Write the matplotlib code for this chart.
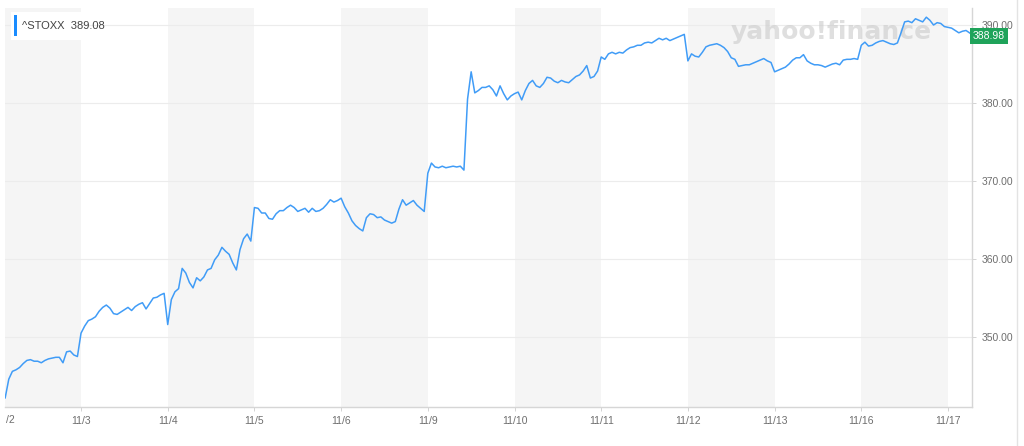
import matplotlib
matplotlib.use('Agg')
import matplotlib.pyplot as plt
from matplotlib.patches import Rectangle
from matplotlib.lines import Line2D
import matplotlib.transforms as mtransforms
import numpy as np

plt.rcParams['font.family'] = ['Liberation Sans', 'DejaVu Sans']

# trading sessions, values (one value every 1/24 of a session)
dates = ['11/2', '11/3', '11/4', '11/5', '11/6', '11/9',
         '11/10', '11/11', '11/12', '11/13', '11/16', '11/17']
first_slot = [3, 0, 0, 0, 0, 0, 0, 0, 0, 0, 0, 0]  # 11/2 is only partly visible

nov02 = [342.2, 344.6, 345.6, 345.8, 346.1, 346.6, 347.0, 347.1, 346.9, 346.9, 346.7,
         347.0, 347.2, 347.3, 347.4, 347.4, 346.7, 348.1, 348.2, 347.7, 347.5]
nov03 = [350.5, 351.4, 352.1, 352.3, 352.6, 353.3, 353.8, 354.1, 353.7, 353.0, 352.9, 353.2,
         353.5, 353.8, 353.4, 353.9, 354.2, 354.4, 353.6, 354.3, 355.0, 355.1, 355.4, 355.6]
nov04 = [351.6, 354.8, 355.8, 356.2, 358.8, 358.2, 357.0, 356.3, 357.6, 357.2, 357.7, 358.6,
         358.8, 359.9, 360.5, 361.5, 361.0, 360.6, 359.5, 358.6, 361.2, 362.6, 363.2, 362.3]
nov05 = [366.6, 366.5, 365.9, 365.9, 365.2, 365.1, 365.8, 366.2, 366.2, 366.6, 366.9, 366.6,
         366.1, 366.3, 366.5, 366.0, 366.5, 366.1, 366.2, 366.5, 367.0, 367.6, 367.3, 367.5]
nov06 = [367.8, 366.7, 365.9, 364.9, 364.3, 363.9, 363.6, 365.3, 365.8, 365.7, 365.3, 365.4,
         365.0, 364.8, 364.6, 364.8, 366.4, 367.6, 366.9, 367.2, 367.5, 366.9, 366.5, 366.1]
nov09 = [371.0, 372.3, 371.8, 371.7, 371.9, 371.7, 371.8, 371.9, 371.8, 371.9, 371.4, 380.5,
         384.0, 381.3, 381.6, 382.0, 382.0, 382.2, 381.7, 380.9, 382.2, 381.2, 380.4, 380.9]
nov10 = [381.2, 381.4, 380.4, 381.6, 382.5, 382.9, 382.2, 382.0, 382.5, 383.3, 383.2, 382.8,
         382.6, 382.9, 382.7, 382.6, 383.0, 383.4, 383.6, 384.1, 384.8, 383.2, 383.4, 384.1]
nov11 = [385.9, 385.6, 386.3, 386.5, 386.3, 386.5, 386.4, 386.8, 387.1, 387.2, 387.4, 387.4,
         387.7, 387.8, 387.7, 388.0, 388.3, 388.1, 388.3, 388.0, 388.2, 388.4, 388.6, 388.8]
nov12 = [385.4, 386.3, 386.0, 385.9, 386.5, 387.2, 387.4, 387.5, 387.6, 387.4, 387.1, 386.6,
         385.8, 385.6, 384.7, 384.8, 384.9, 384.9, 385.1, 385.3, 385.5, 385.7, 385.4, 385.2]
nov13 = [384.0, 384.2, 384.4, 384.6, 385.0, 385.5, 385.8, 385.8, 386.2, 385.4, 385.1, 384.9,
         384.9, 384.8, 384.6, 384.8, 385.0, 385.1, 384.9, 385.5, 385.6, 385.6, 385.7, 385.6]
nov16 = [387.4, 387.8, 387.3, 387.4, 387.7, 387.9, 388.0, 387.8, 387.6, 387.5, 387.7, 389.0,
         390.4, 390.5, 390.3, 390.8, 390.6, 390.4, 391.0, 390.6, 390.0, 390.3, 390.2, 389.8]
nov17 = [389.7, 389.6, 389.3, 389.0, 389.2, 389.3, 388.98]

sessions = [nov02, nov03, nov04, nov05, nov06, nov09,
            nov10, nov11, nov12, nov13, nov16, nov17]
y_ticks = [350, 360, 370, 380, 390]
symbol = '^STOXX'
legend_value = '389.08'
last_value = 388.98

# build the time axis: session i spans [i-1, i)
xs, ys = [], []
for i, vals in enumerate(sessions):
    k = np.arange(len(vals)) + first_slot[i]
    xs.extend(i - 1 + k / 24)
    ys.extend(vals)

fig = plt.figure(figsize=(10.24, 4.46), dpi=100)
ax = fig.add_axes([5 / 1024, 39 / 446, 967 / 1024, 399 / 446])
ax.set_xlim(-0.877, 10.277)
ax.set_ylim(341.03, 392.18)

# alternating day bands
for i in range(len(dates)):
    if i % 2 == 0:
        ax.axvspan(i - 1, i, color='#f5f5f5', lw=0, zorder=0)

for v in y_ticks:
    ax.axhline(v, color='#ececec', lw=0.8, zorder=1)

ax.text(0.854, 0.94, 'yahoo!finance', transform=ax.transAxes, fontsize=18,
        fontweight='bold', color='#cacaca', alpha=0.6, ha='center', va='center',
        family='DejaVu Sans', zorder=2)

ax.plot(xs, ys, color='#409cf7', lw=1.1, zorder=3)

# axes styling
for s in ['top', 'left']:
    ax.spines[s].set_visible(False)
for s in ['right', 'bottom']:
    ax.spines[s].set_color('#d6d6d6')
    ax.spines[s].set_linewidth(1.0)

ax.yaxis.tick_right()
ax.set_yticks(y_ticks)
ax.set_yticklabels([f'{v:.2f}' for v in y_ticks])
ax.tick_params(axis='y', length=3, width=0.6, color='#cccccc', pad=4,
               labelsize=7.5, labelcolor='#6e6e6e')

ax.set_xticks(range(0, len(dates) - 1))
ax.set_xticklabels(dates[1:])
ax.tick_params(axis='x', length=3, width=0.6, color='#cccccc', pad=3.5,
               labelsize=7.5, labelcolor='#6e6e6e')

# the first date tick sits left of the window; only the end of its label shows
fig.text(6 / 1024, 1 - 420 / 446, dates[0][-2:], fontsize=7.5, color='#6e6e6e',
         ha='left', va='center')

# legend box top-left
fig.patches.append(Rectangle((11 / 1024, 1 - 40 / 446), 71 / 1024, 28 / 446,
                             transform=fig.transFigure, facecolor='white',
                             edgecolor='none', zorder=5))
fig.patches.append(Rectangle((14 / 1024, 1 - 36 / 446), 3 / 1024, 21 / 446,
                             transform=fig.transFigure, facecolor='#1a8cff',
                             edgecolor='none', zorder=6))
fig.text(22 / 1024, 1 - 26 / 446, f'{symbol}  {legend_value}', fontsize=8,
         color='#444444', va='center', ha='left', zorder=7)

# last price tag on the right axis
ax.text(1.001, 388.6, f'{last_value:.2f}',
        transform=mtransforms.blended_transform_factory(ax.transAxes, ax.transData),
        fontsize=7.5, color='white', va='center', ha='left', clip_on=False, zorder=8,
        bbox=dict(boxstyle='square,pad=0.25', facecolor='#1fa35a', edgecolor='none'))

# outer widget frame line
fig.lines.append(Line2D([1017 / 1024, 1017 / 1024], [0, 1], transform=fig.transFigure,
                        color='#e3e3e3', lw=1.0))

fig.savefig('out.png', dpi=100)
